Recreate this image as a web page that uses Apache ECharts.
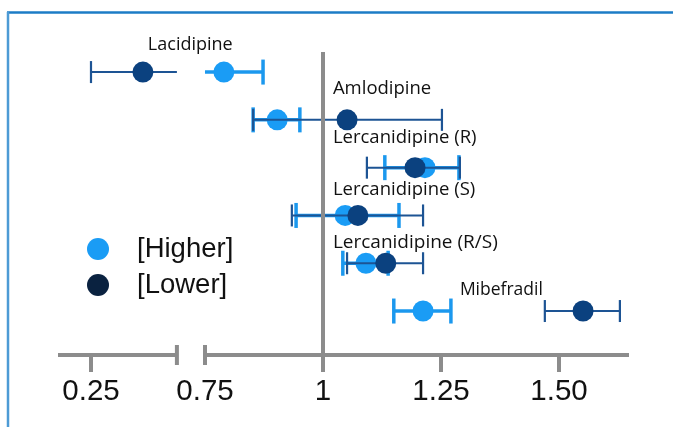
<!DOCTYPE html>
<html>
<head>
<meta charset="utf-8">
<script src="https://cdn.jsdelivr.net/npm/echarts@6/dist/echarts.min.js"></script>
<style>
html,body{margin:0;padding:0;background:#fff;}
#chart{width:673px;height:427px;}
</style>
</head>
<body>
<div id="chart"></div>
<script>
const categories = ['Lacidipine', 'Amlodipine', 'Lercanidipine (R)', 'Lercanidipine (S)', 'Lercanidipine (R/S)', 'Mibefradil'];
const higherMean = [0.790, 0.903, 1.216, 1.047, 1.091, 1.212];
const higherLow  = [0.750, 0.852, 1.131, 0.943, 1.042, 1.150];
const higherHigh = [0.873, 0.951, 1.288, 1.161, 1.138, 1.271];
const lowerMean  = [0.360, 1.051, 1.195, 1.074, 1.133, 1.551];
const lowerLow   = [0.250, 0.852, 1.093, 0.934, 1.051, 1.470];
const lowerHigh  = [0.432, 1.252, 1.290, 1.212, 1.212, 1.629];
const tickValues = [0.25, 0.75, 1, 1.25, 1.5];
const tickLabels = ['0.25', '0.75', '1', '1.25', '1.50'];
const breakRange = [0.432, 0.75];
const seriesNames = ['[Higher]', '[Lower]'];

// ---- broken-axis mapping: left segment shifted next to the break ----
const LEFT_SHIFT = 0.2585;
function toAxis(v) { return v < breakRange[1] ? v + LEFT_SHIFT : v; }
const X_MIN = 0.4386, X_MAX = 1.6483;
const Y_MIN = -0.42, Y_MAX = 5.92;

const C_HI = '#1a9cf5', C_HI_BAR = '#1b98ee';
const C_LO = '#0b417f', C_LO_BAR = '#1d5494', C_LO_LEG = '#0a2240';
const AXIS_C = '#8c8c8c';

function inBreak(v) { return v >= breakRange[0] && v <= breakRange[1]; }

function errData(lo, hi) {
  return categories.map((c, i) => [toAxis(lo[i]), toAxis(hi[i]), i, inBreak(lo[i]) ? 0 : 1, inBreak(hi[i]) ? 0 : 1]);
}

function errRender(color, lw, capH, capW) {
  return function (params, api) {
    const y = api.value(2);
    const a = api.coord([api.value(0), y]);
    const b = api.coord([api.value(1), y]);
    const children = [{
      type: 'line', shape: { x1: a[0], y1: a[1], x2: b[0], y2: b[1] },
      style: { stroke: color, lineWidth: lw }
    }];
    if (api.value(3)) children.push({ type: 'line', shape: { x1: a[0], y1: a[1] - capH / 2, x2: a[0], y2: a[1] + capH / 2 }, style: { stroke: color, lineWidth: capW } });
    if (api.value(4)) children.push({ type: 'line', shape: { x1: b[0], y1: b[1] - capH / 2, x2: b[0], y2: b[1] + capH / 2 }, style: { stroke: color, lineWidth: capW } });
    return { type: 'group', children: children };
  };
}

// label anchors (axis units) and vertical offsets (row units)
const labelX = [0.629, 1.021, 1.021, 1.021, 1.021, 1.290];
const labelDy = [-0.56, -0.65, -0.63, -0.54, -0.44, -0.43];
const labelSize = [18, 18.5, 18.5, 18.5, 19, 17.5];

const chart = echarts.init(document.getElementById('chart'));
chart.setOption({
  animation: false,
  backgroundColor: '#ffffff',
  grid: { left: 58, right: 44, top: 52, bottom: 72 },
  xAxis: {
    type: 'value', min: X_MIN, max: X_MAX, position: 'bottom',
    splitLine: { show: false },
    axisLine: { show: false, onZero: false },
    axisTick: {
      show: true, length: 17, inside: false,
      customValues: [0.25, 1, 1.25, 1.5].map(toAxis),
      lineStyle: { color: AXIS_C, width: 4 }
    },
    axisLabel: {
      show: true, margin: 22,
      customValues: tickValues.map(toAxis),
      fontFamily: 'Liberation Sans', fontSize: 29.5, color: '#111',
      formatter: function (v) {
        for (let i = 0; i < tickValues.length; i++) {
          if (Math.abs(toAxis(tickValues[i]) - v) < 1e-6) return tickLabels[i];
        }
        return '';
      }
    }
  },
  yAxis: { type: 'value', min: Y_MIN, max: Y_MAX, inverse: true, show: false },
  legend: {
    orient: 'vertical', left: 82, top: 230, icon: 'circle',
    itemWidth: 22, itemHeight: 22, itemGap: 8,
    textStyle: { fontFamily: 'Liberation Sans', fontSize: 27.5, color: '#111', padding: [0, 0, 0, 23] },
    data: [
      { name: seriesNames[0], itemStyle: { color: C_HI } },
      { name: seriesNames[1], itemStyle: { color: C_LO_LEG } }
    ]
  },
  graphic: [
    { type: 'line', shape: { x1: 7, y1: 12.5, x2: 673, y2: 12.5 }, style: { stroke: '#1c7cc6', lineWidth: 2.5 } },
    { type: 'line', shape: { x1: 8, y1: 12, x2: 8, y2: 427 }, style: { stroke: '#4d9bd5', lineWidth: 2.5 } }
  ],
  series: [
    {
      name: 'axis', type: 'custom', silent: true, clip: false, z: 1,
      encode: { x: [0, 1], y: 2 },
      data: [[toAxis(breakRange[0]), toAxis(breakRange[1]), Y_MAX]],
      renderItem: function (params, api) {
        const y = api.value(2);
        const s = api.coord([X_MIN, y]);
        const b1 = api.coord([api.value(0), y]);
        const b2 = api.coord([api.value(1), y]);
        const e = api.coord([X_MAX, y]);
        const st = { stroke: AXIS_C, lineWidth: 4 };
        return { type: 'group', children: [
          { type: 'line', shape: { x1: s[0], y1: s[1], x2: b1[0], y2: b1[1] }, style: st },
          { type: 'line', shape: { x1: b2[0], y1: b2[1], x2: e[0], y2: e[1] }, style: st },
          { type: 'line', shape: { x1: b1[0], y1: b1[1] - 10, x2: b1[0], y2: b1[1] + 10 }, style: st },
          { type: 'line', shape: { x1: b2[0], y1: b2[1] - 10, x2: b2[0], y2: b2[1] + 10 }, style: st }
        ] };
      },
      markLine: {
        silent: true, symbol: 'none', label: { show: false },
        lineStyle: { color: AXIS_C, width: 4, type: 'solid' },
        data: [{ xAxis: 1 }]
      }
    },
    {
      name: 'hiErr', type: 'custom', silent: true, z: 2,
      encode: { x: [0, 1], y: 2 },
      data: errData(higherLow, higherHigh),
      renderItem: errRender(C_HI_BAR, 3.5, 25, 3.5)
    },
    {
      name: seriesNames[0], type: 'scatter', z: 3, symbolSize: 21,
      itemStyle: { color: C_HI, opacity: 1 },
      data: higherMean.map((v, i) => [toAxis(v), i])
    },
    {
      name: 'loErr', type: 'custom', silent: true, z: 4,
      encode: { x: [0, 1], y: 2 },
      data: errData(lowerLow, lowerHigh),
      renderItem: errRender(C_LO_BAR, 2, 22, 2.2)
    },
    {
      name: seriesNames[1], type: 'scatter', z: 5, symbolSize: 21,
      itemStyle: { color: C_LO, opacity: 1 },
      data: lowerMean.map((v, i) => [toAxis(v), i])
    },
    {
      name: 'labels', type: 'custom', silent: true, z: 6, clip: false,
      encode: { x: 0, y: 1 },
      data: categories.map((c, i) => [labelX[i], i + labelDy[i], i]),
      renderItem: function (params, api) {
        const i = api.value(2);
        const p = api.coord([api.value(0), api.value(1)]);
        return { type: 'text', x: p[0], y: p[1], style: {
          text: categories[i], fill: '#111', fontFamily: 'Open Sans', fontSize: labelSize[i],
          textAlign: 'left', textVerticalAlign: 'middle'
        } };
      }
    }
  ]
});
</script>
</body>
</html>
